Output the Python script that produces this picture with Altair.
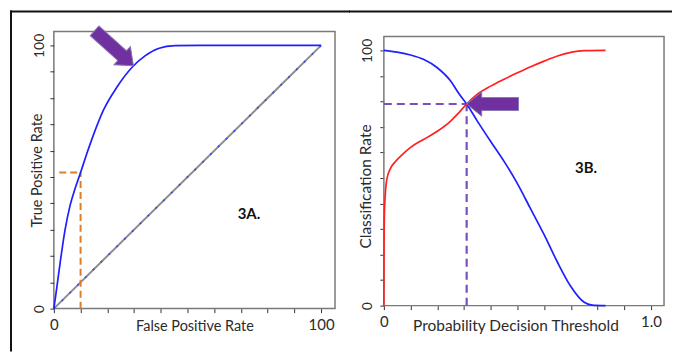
import altair as alt
import pandas as pd

FONT = "Lato"
TXT = "#2b2b2b"

# ---------------- Panel 3A : ROC curve ----------------
roc_fpr = [0, 1.1, 2.4, 4.2, 6.1, 8.0, 10.0, 12.0, 14.2, 18.5, 23.5, 29.1, 34.1, 39.1, 45.3, 55.0, 100.0]
roc_tpr = [0, 8.0, 17.8, 30.0, 39.3, 45.8, 51.7, 57.9, 64.3, 75.3, 84.0, 91.5, 96.0, 98.8, 99.9, 100.0, 100.0]
diag_x = [0, 100]
diag_y = [0, 100]
cut_fpr = 10.0
cut_tpr = 51.7
cut_start = 2.0
label_a = "3A."
label_a_x, label_a_y = 73.0, 36.0
arrow_a_x, arrow_a_y, arrow_a_angle = 22.5, 98.9, 222
ticks_100 = [0, 10, 20, 30, 40, 50, 60, 70, 80, 90, 100]

# ---------------- Panel 3B : rates vs threshold ----------------
spec_thr = [0, 0.05, 0.1, 0.15, 0.2, 0.25, 0.28, 0.31, 0.35, 0.4, 0.45, 0.5, 0.55, 0.6, 0.65, 0.7, 0.75, 0.78, 0.83]
spec_rate = [100, 99.3, 98.2, 96.4, 93.2, 88.0, 83.2, 79.0, 72.3, 64.3, 56.5, 47.8, 37.8, 27.8, 17.0, 7.5, 1.3, 0.2, 0]
sens_thr = [0, 0.0005, 0.002, 0.005, 0.011, 0.024, 0.042, 0.07, 0.1, 0.15, 0.2, 0.25, 0.28, 0.31, 0.35, 0.4,
            0.45, 0.5, 0.55, 0.6, 0.65, 0.7, 0.75, 0.83]
sens_rate = [0, 20, 36, 43, 49.5, 53.6, 56.3, 59.3, 62.0, 65.2, 68.3, 72.3, 75.5, 79.0, 82.8, 86.0,
             88.7, 91.2, 93.6, 95.8, 97.8, 99.2, 99.9, 100]
cross_thr = 0.31
cross_rate = 79.0
label_b = "3B."
label_b_x, label_b_y = 0.757, 54.0
arrow_b_x, arrow_b_y, arrow_b_angle = 0.407, 79.0, 0
ticks_1 = [0.0, 0.1, 0.2, 0.3, 0.4, 0.5, 0.6, 0.7, 0.8, 0.9, 1.0]

ARROW = "M -1 0 L -0.42 -0.47 L -0.42 -0.25 L 1 -0.25 L 1 0.25 L -0.42 0.25 L -0.42 0.47 Z"
PURPLE = "#7030A0"

W_A, W_B, H = 282, 281, 278


def ax_common(title_size):
    return dict(grid=False, domain=False, tickSize=4, tickColor="#333", tickWidth=1,
                labelFont=FONT, labelColor=TXT, labelOverlap=False, labelFlush=False,
                titleFont=FONT, titleFontSize=title_size, titleFontWeight="normal", titleColor=TXT)


def xa(field):
    return alt.X(field, type="quantitative",
                 scale=alt.Scale(domain=[0, 105.2], nice=False, zero=False),
                 axis=alt.Axis(values=ticks_100,
                               labelExpr="datum.value == 0 || datum.value == 100 ? datum.label : ''",
                               labelFontSize=15, labelPadding=5,
                               title="False Positive Rate", titleX=141, titleY=18,
                               titleAlign="center", titleBaseline="middle", **ax_common(14.5)))


def ya(field):
    return alt.Y(field, type="quantitative",
                 scale=alt.Scale(domain=[0, 105.3], nice=False, zero=False),
                 axis=alt.Axis(values=ticks_100,
                               labelExpr="datum.value == 0 || datum.value == 100 ? datum.label : ''",
                               labelFontSize=14, labelAngle=270, labelAlign="center",
                               labelBaseline="bottom", labelPadding=3,
                               title="True Positive Rate", titleAngle=270, titleX=-16, titleY=139,
                               titleAlign="center", titleBaseline="middle", **ax_common(14.5)))


def xb(field):
    return alt.X(field, type="quantitative",
                 scale=alt.Scale(domain=[0, 1.049], nice=False, zero=False),
                 axis=alt.Axis(values=ticks_1, offset=-3,
                               labelExpr="datum.value == 0 ? '0' : (datum.value == 1 ? '1.0' : '')",
                               labelFontSize=15, labelPadding=5,
                               title="Probability Decision Threshold", titleX=132, titleY=20,
                               titleAlign="center", titleBaseline="middle", **ax_common(15.5)))


def yb(field):
    return alt.Y(field, type="quantitative",
                 scale=alt.Scale(domain=[-1.17, 107.42], nice=False, zero=False),
                 axis=alt.Axis(values=ticks_100,
                               labelExpr="datum.value == 0 || datum.value == 100 ? datum.label : ''",
                               labelFontSize=14, labelAngle=270, labelAlign="center",
                               labelBaseline="bottom", labelPadding=5,
                               title="Classification Rate", titleAngle=270, titleX=-18, titleY=155,
                               titleAlign="center", titleBaseline="middle", **ax_common(15.5)))


one = alt.Data(values=[{}])

# ---------- left panel ----------
roc_df = pd.DataFrame({"x": roc_fpr, "y": roc_tpr})
diag_df = pd.DataFrame({"x": diag_x, "y": diag_y})
cut_df = pd.DataFrame({"x": [cut_fpr, cut_start], "y": [0, cut_tpr], "x2": [cut_fpr, cut_fpr], "y2": [cut_tpr, cut_tpr]})
lab_a_df = pd.DataFrame({"x": [label_a_x], "y": [label_a_y], "t": [label_a]})
arr_a_df = pd.DataFrame({"x": [arrow_a_x], "y": [arrow_a_y]})

border_top_a = alt.Chart(one).mark_rule(color="#111", strokeWidth=2, strokeCap="square").encode(
    x=alt.value(-43), x2=alt.value(296), y=alt.value(-20))
border_left = alt.Chart(one).mark_rule(color="#111", strokeWidth=2, strokeCap="square").encode(
    x=alt.value(-43), y=alt.value(-20), y2=alt.value(320))

diag_gray = alt.Chart(diag_df).mark_line(color="#8c8c8c", strokeWidth=2).encode(x=xa("x"), y=ya("y"))
diag_blue = alt.Chart(diag_df).mark_line(color="#3344ff", strokeWidth=1.5, strokeDash=[2, 9]).encode(x=xa("x"), y=ya("y"))
roc_line = alt.Chart(roc_df).mark_line(color="#1f1fff", strokeWidth=1.7, interpolate="monotone").encode(
    x=xa("x"), y=ya("y"), order=alt.Order("x:Q"))
cut_lines = alt.Chart(cut_df).mark_rule(color="#DD7F2A", strokeWidth=2, strokeDash=[7, 4]).encode(
    x=xa("x"), y=ya("y"), x2="x2", y2="y2")
text_a = alt.Chart(lab_a_df).mark_text(font=FONT, fontSize=15, fontWeight="bold", color="#111").encode(
    x=xa("x"), y=ya("y"), text="t")
arrow_a = alt.Chart(arr_a_df).mark_point(shape=ARROW, filled=True, fill=PURPLE, stroke="#8877b5",
                                         strokeWidth=1, size=2750, angle=arrow_a_angle, opacity=1).encode(
    x=xa("x"), y=ya("y"))

left = alt.layer(diag_gray, diag_blue, cut_lines, roc_line, text_a, arrow_a, border_top_a, border_left).properties(
    width=W_A, height=H, view=alt.ViewBackground(stroke="#7a7a7a", strokeWidth=1.5))

# ---------- right panel ----------
spec_df = pd.DataFrame({"x": spec_thr, "y": spec_rate})
sens_df = pd.DataFrame({"x": sens_thr, "y": sens_rate})
cross_df = pd.DataFrame({"x": [0, cross_thr], "y": [cross_rate, 0], "x2": [cross_thr, cross_thr], "y2": [cross_rate, cross_rate]})
lab_b_df = pd.DataFrame({"x": [label_b_x], "y": [label_b_y], "t": [label_b]})
arr_b_df = pd.DataFrame({"x": [arrow_b_x], "y": [arrow_b_y]})

border_top_b = alt.Chart(one).mark_rule(color="#111", strokeWidth=2, strokeCap="square").encode(
    x=alt.value(-34), x2=alt.value(288), y=alt.value(-20))
frame_b = alt.Chart(one).mark_rect(filled=False, stroke="#7a7a7a", strokeWidth=1.5).encode(
    x=alt.value(0), x2=alt.value(W_B), y=alt.value(5), y2=alt.value(275))

spec_line = alt.Chart(spec_df).mark_line(color="#1f1fff", strokeWidth=1.7, interpolate="monotone").encode(
    x=xb("x"), y=yb("y"), order=alt.Order("x:Q"))
sens_line = alt.Chart(sens_df).mark_line(color="#ff2020", strokeWidth=1.7, interpolate="monotone").encode(
    x=xb("x"), y=yb("y"), order=alt.Order("x:Q"))
cross_lines = alt.Chart(cross_df).mark_rule(color="#7D4EBD", strokeWidth=2.2, strokeDash=[8, 5]).encode(
    x=xb("x"), y=yb("y"), x2="x2", y2="y2")
text_b = alt.Chart(lab_b_df).mark_text(font=FONT, fontSize=15, fontWeight="bold", color="#111").encode(
    x=xb("x"), y=yb("y"), text="t")
arrow_b = alt.Chart(arr_b_df).mark_point(shape=ARROW, filled=True, fill=PURPLE, stroke="#8877b5",
                                         strokeWidth=1, size=2700, angle=arrow_b_angle, opacity=1).encode(
    x=xb("x"), y=yb("y"))

right = alt.layer(frame_b, cross_lines, spec_line, sens_line, text_b, arrow_b, border_top_b).properties(
    width=W_B, height=H, view=alt.ViewBackground(strokeOpacity=0))

chart = alt.hconcat(left, right, spacing=-4).properties(padding=0).configure(background="white")

chart.save("out.html", embed_options={"renderer": "svg", "actions": False})
